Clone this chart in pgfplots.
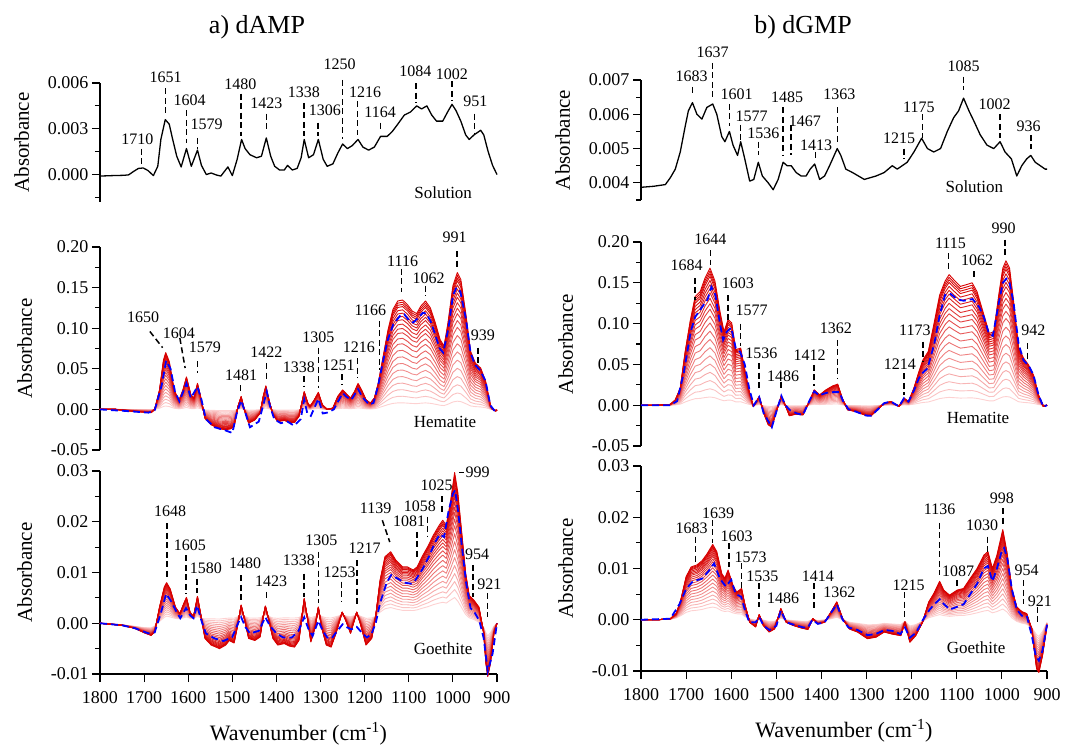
\documentclass[border=0pt]{standalone}
\usepackage{fontspec}
\setmainfont{Liberation Serif}
\usepackage{pgfplots}
\usepackage{pgfplotstable}
\pgfplotsset{compat=1.18}

\definecolor{dkred}{RGB}{215,0,0}
\definecolor{pinkbase}{RGB}{255,222,222}
\newcommand\fs[1]{\fontsize{#1}{#1}\selectfont}

% peak label: text x, text y, text, dash x, dash y1, dash y2
\newcommand\pk[6]{\node[pklab] at (axis cs:#1,#2) {#3};
  \draw[pkdash] (axis cs:#4,#5) -- (axis cs:#4,#6);}

% ---------- dAMP solution
\pgfplotstableread{
wn a
1800 -0.0001
1772 -0.00007
1745 -0.00005
1735 -0.00002
1724 0.0002
1713 0.0004
1702 0.00043
1691 0.00026
1679 -0.00007
1669 0.00054
1662 0.0023
1652 0.0036
1643 0.0033
1636 0.0024
1626 0.0012
1616 0.0005
1604 0.0017
1593 0.00054
1579 0.0016
1570 0.0006
1559 0.0
1548 0.0001
1535 -0.00004
1526 -0.0001
1518 0.0002
1510 0.0005
1500 -0.00007
1489 0.001
1479 0.0023
1471 0.0017
1460 0.0013
1445 0.0011
1434 0.0012
1423 0.0024
1413 0.0012
1404 0.00054
1393 0.0003
1382 0.0003
1375 0.0006
1364 0.0003
1353 0.0004
1344 0.0011
1337 0.0023
1327 0.0011
1316 0.0013
1305 0.0023
1294 0.001
1285 0.00054
1272 0.0007
1261 0.0014
1250 0.002
1239 0.0017
1228 0.0019
1215 0.0023
1204 0.0018
1191 0.0016
1178 0.0018
1164 0.0025
1149 0.0025
1138 0.0028
1125 0.0033
1110 0.0039
1096 0.0041
1082 0.0045
1071 0.0043
1059 0.0045
1048 0.0039
1037 0.0035
1023 0.0035
1012 0.0041
1002 0.0046
993 0.0042
982 0.0035
971 0.0026
963 0.0023
952 0.0026
937 0.0029
930 0.0026
920 0.0015
910 0.0006
900 0.0000
}\tAsol

% ---------- dGMP solution
\pgfplotstableread{
wn a
1800 0.00387
1772 0.0039
1746 0.00395
1735 0.00415
1724 0.0044
1713 0.0049
1702 0.00565
1695 0.0061
1686 0.00634
1676 0.006
1665 0.00586
1654 0.0062
1641 0.0063
1632 0.006
1621 0.00535
1614 0.0052
1604 0.0055
1596 0.0051
1586 0.0048
1579 0.0052
1570 0.0047
1559 0.00405
1550 0.0041
1540 0.0046
1531 0.0042
1518 0.004
1507 0.0038
1496 0.0041
1485 0.0046
1476 0.0045
1467 0.0045
1456 0.0043
1445 0.0042
1434 0.0042
1425 0.0044
1415 0.00455
1404 0.0041
1393 0.0042
1382 0.0045
1365 0.005
1357 0.0048
1346 0.0044
1331 0.0043
1318 0.0042
1305 0.0041
1279 0.0042
1261 0.0043
1243 0.0045
1232 0.0044
1221 0.0045
1210 0.0046
1195 0.0049
1178 0.0053
1165 0.005
1151 0.0049
1136 0.005
1121 0.0055
1107 0.0059
1096 0.0061
1085 0.00647
1073 0.0061
1062 0.0058
1048 0.0054
1033 0.0051
1018 0.005
1004 0.0052
993 0.0049
979 0.0047
967 0.0042
956 0.0045
945 0.0047
936 0.0048
926 0.0046
904 0.0044
900 0.0044
}\tBsol

% ---------- dAMP hematite (outermost curve)
\pgfplotstableread{
wn d
1800 0.0
1765 0.0
1721 -0.0025
1684 -0.004
1676 0.0
1665 0.024
1656 0.061
1651 0.070
1643 0.059
1632 0.024
1621 0.011
1612 0.024
1604 0.040
1594 0.018
1587 0.014
1579 0.032
1572 0.016
1562 -0.011
1548 -0.019
1529 -0.024
1515 -0.025
1504 -0.024
1496 -0.021
1487 0.004
1480 0.016
1473 0.0
1463 -0.017
1449 -0.013
1437 -0.0045
1430 0.016
1424 0.029
1417 0.012
1408 -0.0066
1397 -0.015
1382 -0.0136
1371 -0.016
1359 -0.016
1349 -0.0087
1337 0.022
1329 0.008
1324 0.0037
1315 0.011
1305 0.021
1296 0.0058
1285 0.0
1272 0.0016
1261 0.016
1250 0.024
1241 0.019
1232 0.014
1223 0.022
1215 0.032
1207 0.024
1197 0.012
1187 0.0078
1178 0.014
1169 0.0326
1158 0.0655
1147 0.098
1136 0.123
1125 0.1335
1114 0.1347
1103 0.129
1092 0.121
1082 0.118
1073 0.127
1062 0.1335
1051 0.125
1040 0.107
1029 0.086
1020 0.078
1011 0.107
1000 0.152
990 0.1685
982 0.160
971 0.119
960 0.0717
949 0.057
937 0.051
926 0.035
915 0.005
910 0.0
903 -0.002
900 -0.001
}\tAhem

% ---------- dGMP hematite (outermost curve)
\pgfplotstableread{
wn d
1800 0.0
1765 0.0
1735 0.001
1724 0.0065
1713 0.021
1702 0.066
1691 0.103
1680 0.133
1669 0.139
1658 0.156
1647 0.168
1636 0.152
1625 0.115
1616 0.090
1607 0.105
1599 0.101
1590 0.068
1579 0.070
1572 0.0495
1562 0.021
1551 -0.0016
1538 0.0106
1528 -0.0098
1518 -0.024
1510 -0.027
1500 -0.008
1489 0.0115
1479 -0.0016
1471 -0.013
1457 -0.011
1441 -0.012
1427 0.0045
1416 0.0188
1404 0.0127
1390 0.0188
1375 0.0237
1364 0.0258
1354 0.0086
1342 -0.0057
1324 -0.0078
1301 -0.0127
1290 -0.013
1276 -0.0057
1261 0.0025
1246 0.0045
1228 -0.0016
1217 0.0086
1207 0.0045
1195 0.021
1184 0.041
1175 0.0556
1163 0.066
1151 0.0985
1138 0.135
1126 0.152
1117 0.160
1107 0.154
1092 0.1456
1077 0.148
1066 0.150
1055 0.139
1040 0.111
1028 0.088
1018 0.090
1007 0.135
998 0.168
991 0.177
983 0.168
974 0.127
963 0.070
952 0.0577
941 0.0495
930 0.037
919 0.0127
908 -0.0016
900 0.0
}\tBhem

% ---------- dAMP goethite (outermost and faintest curve)
\pgfplotstableread{
wn d l
1800 0 0
1750 -0.0004 -0.0003
1721 -0.001 -0.0006
1699 -0.0019 -0.0008
1684 -0.0024 -0.0008
1676 -0.0017 -0.0005
1665 0.0032 0.0002
1654 0.0072 0.0008
1649 0.008 0.001
1641 0.0068 0.0009
1629 0.0032 0.0008
1619 0.0019 0.0008
1610 0.0039 0.0009
1604 0.0051 0.001
1596 0.0022 0.0009
1588 0.0013 0.0009
1579 0.0053 0.0011
1572 0.0019 0.001
1562 -0.003 0.0011
1548 -0.0043 0.0012
1529 -0.005 0.0012
1515 -0.0043 0.0013
1507 -0.0034 0.0013
1496 -0.0039 0.0013
1487 0 0.0014
1480 0.0036 0.0016
1472 0.0006 0.0014
1463 -0.003 0.0013
1449 -0.0034 0.0013
1437 -0.0027 0.0013
1430 0.0013 0.0014
1425 0.0034 0.0016
1418 0.0009 0.0014
1408 -0.003 0.0013
1397 -0.0043 0.0013
1382 -0.004 0.0014
1371 -0.0045 0.0014
1359 -0.0047 0.0014
1349 -0.0034 0.0014
1337 0.0049 0.0017
1329 0.0006 0.0015
1322 -0.0037 0.0014
1312 -0.0007 0.0015
1305 0.0032 0.0016
1298 -0.0007 0.0015
1287 -0.0043 0.0014
1276 -0.0047 0.0014
1265 -0.002 0.0015
1251 0.0022 0.0016
1243 0.0006 0.0015
1232 -0.002 0.0015
1218 0.0022 0.0016
1210 0 0.0015
1197 -0.0043 0.0013
1184 -0.003 0.0013
1175 0.0013 0.0014
1165 0.0085 0.0018
1154 0.0131 0.0022
1141 0.0141 0.0024
1129 0.0124 0.0022
1114 0.0111 0.002
1103 0.0111 0.002
1090 0.0105 0.002
1081 0.0111 0.0021
1070 0.0131 0.0023
1057 0.0151 0.0025
1044 0.0174 0.0028
1031 0.0193 0.003
1023 0.0203 0.0031
1015 0.0193 0.003
1006 0.0236 0.0033
996 0.0297 0.0035
989 0.0259 0.003
979 0.017 0.002
971 0.0098 0.0012
963 0.0055 0.0008
952 0.0045 0.0005
941 0.0032 0.0
930 -0.002 -0.0008
925 -0.008 -0.0015
921 -0.0105 -0.002
915 -0.008 -0.0015
907 -0.002 -0.0005
900 0.0 0.0
}\tAgoe

% ---------- dGMP goethite (outermost and faintest curve)
\pgfplotstableread{
wn d l
1800 0 0
1765 0 0
1735 0.0002 0.0001
1722 0.0012 0.0003
1712 0.0038 0.0006
1700 0.0084 0.001
1689 0.0103 0.0012
1676 0.0107 0.0013
1665 0.0115 0.0014
1654 0.0128 0.0016
1641 0.0147 0.0017
1632 0.0133 0.0016
1621 0.009 0.0013
1614 0.0081 0.0012
1607 0.0097 0.0012
1596 0.0067 0.001
1588 0.0054 0.0009
1577 0.0061 0.0008
1570 0.0031 0.0005
1559 -0.0005 0.0002
1546 -0.0014 0.0
1538 0.001 0.0002
1529 -0.0011 0.0
1516 -0.0024 -0.0002
1504 -0.0018 -0.0002
1490 0.0022 0.0002
1478 -0.0005 0.0
1463 -0.0011 -0.0001
1445 -0.0016 -0.0002
1430 -0.0019 -0.0002
1419 0.0002 0.0
1408 -0.0008 -0.0001
1393 -0.0005 0.0
1379 0.0015 0.0001
1366 0.0035 0.0003
1353 0.0002 0.0
1338 -0.0018 -0.0004
1320 -0.0024 -0.0006
1298 -0.0037 -0.0008
1279 -0.0034 -0.0008
1261 -0.0024 -0.0006
1243 -0.0028 -0.0007
1224 -0.0031 -0.0008
1215 -0.0005 -0.0003
1204 -0.0044 -0.001
1191 -0.0031 -0.0008
1176 -0.0005 -0.0003
1162 0.0035 0.0002
1151 0.0051 0.0004
1138 0.0075 0.0006
1129 0.0058 0.0005
1116 0.0048 0.0004
1099 0.0058 0.0005
1085 0.0061 0.0005
1070 0.0081 0.0006
1055 0.01 0.0008
1040 0.0126 0.001
1031 0.0133 0.0011
1021 0.01 0.0008
1011 0.0126 0.0009
998 0.0176 0.0011
989 0.0133 0.0008
978 0.0061 0.0
967 0.0025 -0.0005
956 0.0016 -0.0008
945 0.0012 -0.001
934 -0.0018 -0.0015
923 -0.0096 -0.0025
918 -0.0103 -0.0028
910 -0.007 -0.002
900 -0.0011 -0.0005
}\tBgoe

\tikzset{
  pklab/.style={font=\fs{16}, inner sep=1pt},
  pkdash/.style={line width=1.5pt, dash pattern=on 6pt off 3.5pt},
}
\pgfplotsset{
  panel/.style={
    scale only axis, clip=false,
    x dir=reverse, xmin=900, xmax=1800,
    axis y line*=left,
    axis line style={-, line width=1.1pt},
    tick align=outside, major tick length=8pt, minor tick length=5pt,
    every tick/.style={black, line width=1.1pt},
    tick label style={font=\fs{18}},
    scaled y ticks=false,
    /pgf/number format/assume math mode=true,
    ylabel={Absorbance}, ylabel style={font=\fs{21}}, ylabel shift=12pt,
    yticklabel style={/pgf/number format/fixed,
      /pgf/number format/fixed zerofill, /pgf/number format/precision=2},
  },
  toppanel/.style={panel, axis x line=none},
  bottompanel/.style={panel, axis x line*=bottom,
    xtick={900,1000,...,1800}, scaled x ticks=false,
    xticklabel shift=6pt,
    xticklabel style={/pgf/number format/fixed, /pgf/number format/precision=0,
      /pgf/number format/1000 sep={}},
    xlabel={Wavenumber (cm\textsuperscript{-1})}, xlabel style={font=\fs{22}},
    xlabel shift=12pt,
  },
  bluedash/.style={blue, line width=1.8pt, dash pattern=on 7pt off 4pt},
  fam/.style={line width=0.9pt, line join=round},
}

\begin{document}
\begin{tikzpicture}
\useasboundingbox (0,0) rectangle (1067pt,748pt);

\node[font=\fs{26}] at (257pt,721pt) {a) dAMP};
\node[font=\fs{26}] at (803pt,721pt) {b) dGMP};

% ===== a) solution
\begin{axis}[toppanel, at={(100pt,546pt)}, anchor=south west,
  width=397pt, height=119pt, ymin=-0.0018, ymax=0.006,
  ytick={0,0.003,0.006}, minor ytick={-0.0015,0.0015,0.0045},
  yticklabel style={/pgf/number format/precision=3}]
\addplot[black, line width=1.3pt, line join=round] table[x=wn, y=a] {\tAsol};
\pk{1715}{0.0023}{1710}{1706}{0.0017}{0.00054}
\pk{1651}{0.0064}{1651}{1651}{0.00565}{0.0038}
\pk{1597}{0.0049}{1604}{1604}{0.0042}{0.0021}
\pk{1558}{0.0033}{1579}{1579}{0.0024}{0.0017}
\pk{1482}{0.0059}{1480}{1480}{0.0053}{0.0025}
\pk{1423}{0.0047}{1423}{1423}{0.0040}{0.0028}
\pk{1338}{0.0054}{1338}{1338}{0.0047}{0.0025}
\pk{1290}{0.0042}{1306}{1306}{0.0034}{0.0025}
\pk{1257}{0.0072}{1250}{1250}{0.0062}{0.0023}
\pk{1199}{0.0054}{1216}{1216}{0.0048}{0.0026}
\pk{1165}{0.0041}{1164}{1164}{0.0034}{0.0028}
\pk{1085}{0.0068}{1084}{1084}{0.0060}{0.0047}
\pk{1002}{0.0066}{1002}{1002}{0.0061}{0.0048}
\pk{949}{0.0048}{951}{951}{0.0040}{0.0026}
\node[font=\fs{17}] at (axis cs:1022,-0.0012) {Solution};
\end{axis}

% ===== a) hematite
\begin{axis}[toppanel, at={(100pt,298pt)}, anchor=south west,
  width=397pt, height=203pt, ymin=-0.05, ymax=0.2,
  ytick={-0.05,0,0.05,0.1,0.15,0.2}, minor y tick num=1]
\pgfplotsinvokeforeach{6,12,18,24,30,36,42,48,54,60,65,70,74,78,82,85,88,91,94,96,98,100}{
  \addplot[fam, draw=dkred!#1!pinkbase] table[x=wn, y expr={#1/100*\thisrow{d}}] {\tAhem};
}
\addplot[bluedash] coordinates {(1800,0) (1740,-0.002) (1690,-0.004) (1676,-0.001)
 (1660,0.03) (1650,0.060) (1640,0.05) (1630,0.022) (1620,0.010) (1604,0.032) (1594,0.014)
 (1579,0.028) (1570,0.012) (1560,-0.012) (1540,-0.022) (1515,-0.026) (1500,-0.029)
 (1490,-0.005) (1480,0.011) (1470,-0.005) (1460,-0.022) (1440,-0.015) (1430,0.005)
 (1422,0.022) (1415,0.005) (1405,-0.012) (1390,-0.017) (1375,-0.015) (1360,-0.020)
 (1345,-0.012) (1337,0.012) (1330,-0.005) (1322,-0.008) (1305,0.013) (1295,-0.005)
 (1285,-0.004) (1270,0.000) (1250,0.020) (1240,0.015) (1230,0.012) (1215,0.025)
 (1205,0.015) (1190,0.006) (1180,0.008) (1170,0.028) (1160,0.055) (1148,0.085)
 (1135,0.105) (1120,0.115) (1110,0.117) (1100,0.110) (1090,0.107) (1080,0.112)
 (1068,0.119) (1060,0.118) (1050,0.108) (1040,0.092) (1030,0.075) (1022,0.070)
 (1010,0.100) (1000,0.140) (992,0.150) (983,0.145) (970,0.110) (960,0.070) (950,0.055)
 (938,0.048) (926,0.035) (915,0.005) (905,-0.002) (900,-0.001)};
\node[pklab] at (axis cs:1702,0.113) {1650};
\draw[pkdash] (axis cs:1687,0.096) -- (axis cs:1658,0.076);
\node[pklab] at (axis cs:1621,0.094) {1604};
\draw[pkdash] (axis cs:1619,0.088) -- (axis cs:1607,0.051);
\pk{1562}{0.077}{1579}{1579}{0.059}{0.045}
\pk{1480}{0.042}{1481}{1481}{0.030}{0.020}
\pk{1423}{0.070}{1422}{1422}{0.057}{0.035}
\pk{1349}{0.052}{1338}{1338}{0.041}{0.028}
\pk{1305}{0.089}{1305}{1305}{0.076}{0.026}
\pk{1259}{0.054}{1251}{1251}{0.043}{0.030}
\pk{1213}{0.077}{1216}{1216}{0.063}{0.039}
\pk{1187}{0.122}{1166}{1166}{0.109}{0.049}
\pk{1114}{0.183}{1116}{1116}{0.173}{0.144}
\pk{1055}{0.162}{1062}{1062}{0.152}{0.140}
\pk{996}{0.212}{991}{991}{0.195}{0.175}
\pk{932}{0.091}{939}{943}{0.076}{0.053}
\node[font=\fs{17}] at (axis cs:1018,-0.015) {Hematite};
\end{axis}

% ===== a) goethite
\begin{axis}[bottompanel, at={(100pt,74pt)}, anchor=south west,
  width=397pt, height=203pt, ymin=-0.01, ymax=0.03,
  ytick={-0.01,0,0.01,0.02,0.03}, minor y tick num=1]
\pgfplotsinvokeforeach{6,12,18,24,30,36,42,48,54,60,65,70,74,78,82,85,88,91,94,96,98,100}{
  \addplot[fam, draw=dkred!#1!pinkbase] table[x=wn, y expr={#1/100*\thisrow{d}+(1-#1/100)*\thisrow{l}}] {\tAgoe};
}
\addplot[bluedash] coordinates {(1800,0) (1750,-0.0004) (1720,-0.001) (1690,-0.002)
 (1676,-0.0018) (1662,0.002) (1650,0.0058) (1640,0.0045) (1625,0.002) (1618,0.001)
 (1605,0.003) (1595,0.0015) (1588,0.001) (1580,0.0035) (1570,0.0005) (1560,-0.002)
 (1540,-0.003) (1520,-0.0035) (1500,-0.0027) (1487,0.0) (1480,0.0012) (1470,-0.0008)
 (1460,-0.002) (1440,-0.0015) (1425,0.0012) (1415,-0.0005) (1400,-0.002) (1385,-0.0028)
 (1365,-0.0028) (1350,-0.0015) (1337,0.0012) (1328,-0.001) (1318,-0.0025) (1305,0.0005)
 (1295,-0.0015) (1285,-0.0028) (1275,-0.003) (1262,-0.0015) (1250,-0.0002) (1240,-0.0008)
 (1230,-0.0012) (1218,-0.0007) (1205,-0.002) (1195,-0.0028) (1185,-0.0022) (1175,0)
 (1165,0.004) (1150,0.008) (1140,0.0095) (1125,0.0088) (1110,0.008) (1095,0.0078)
 (1085,0.0085) (1070,0.0105) (1055,0.013) (1040,0.016) (1030,0.0175) (1020,0.017)
 (1010,0.022) (1000,0.0255) (995,0.0262) (988,0.022) (980,0.0155) (970,0.008) (960,0.003)
 (950,0.002) (940,0.0005) (930,-0.003) (921,-0.0095) (910,-0.006) (900,0)};
\pk{1641}{0.022}{1648}{1648}{0.0197}{0.0085}
\pk{1596}{0.0154}{1605}{1605}{0.0134}{0.0059}
\pk{1560}{0.0108}{1580}{1580}{0.0088}{0.0059}
\pk{1471}{0.0118}{1480}{1480}{0.0095}{0.0045}
\pk{1412}{0.0082}{1423}{1423}{0.0062}{0.0045}
\pk{1349}{0.0124}{1338}{1338}{0.0098}{0.0052}
\pk{1298}{0.0164}{1305}{1305}{0.0141}{0.0039}
\pk{1257}{0.0101}{1253}{1253}{0.0082}{0.0042}
\pk{1200}{0.0147}{1217}{1217}{0.0124}{0.0032}
\node[pklab] at (axis cs:1175,0.0226) {1139};
\draw[pkdash] (axis cs:1160,0.0203) -- (axis cs:1143,0.016);
\pk{1099}{0.0200}{1081}{1081}{0.0180}{0.0131}
\pk{1075}{0.0230}{1058}{1058}{0.0210}{0.0170}
\pk{1037}{0.0272}{1025}{1025}{0.0250}{0.0220}
\draw[line width=1.3pt] (axis cs:986,0.0297) -- (axis cs:975,0.0297);
\node[pklab, anchor=west] at (axis cs:974,0.0297) {999};
\pk{945}{0.0135}{954}{954}{0.0115}{0.0052}
\pk{917}{0.0076}{921}{921}{0.0059}{0.0012}
\node[font=\fs{17}] at (axis cs:1022,-0.005) {Goethite};
\end{axis}

% ===== b) solution
\begin{axis}[toppanel, at={(641pt,548pt)}, anchor=south west,
  width=406pt, height=120pt, ymin=0.0035, ymax=0.007,
  ytick={0.004,0.005,0.006,0.007}, minor ytick={0.0035,0.0045,0.0055,0.0065},
  yticklabel style={/pgf/number format/precision=3}]
\addplot[black, line width=1.3pt, line join=round] table[x=wn, y=a] {\tBsol};
\pk{1688}{0.0071}{1683}{1686}{0.0068}{0.00657}
\pk{1641}{0.0078}{1637}{1641}{0.0075}{0.0064}
\pk{1588}{0.00657}{1601}{1604}{0.0063}{0.00565}
\pk{1555}{0.00594}{1577}{1579}{0.0057}{0.0052}
\pk{1529}{0.00545}{1536}{1540}{0.0052}{0.0048}
\pk{1476}{0.0065}{1485}{1485}{0.0062}{0.0048}
\pk{1437}{0.0058}{1467}{1467}{0.0057}{0.0048}
\pk{1412}{0.0051}{1413}{1413}{0.0049}{0.0047}
\pk{1360}{0.00657}{1363}{1364}{0.0062}{0.0051}
\pk{1228}{0.0053}{1215}{1217}{0.0050}{0.0047}
\pk{1184}{0.0062}{1175}{1176}{0.0060}{0.0053}
\pk{1085}{0.0074}{1085}{1085}{0.0071}{0.0067}
\pk{1016}{0.0063}{1002}{1004}{0.0060}{0.0053}
\pk{941}{0.00565}{936}{936}{0.0054}{0.0050}
\node[font=\fs{17}] at (axis cs:1061,0.0039) {Solution};
\end{axis}

% ===== b) hematite
\begin{axis}[toppanel, at={(641pt,302pt)}, anchor=south west,
  width=406pt, height=204pt, ymin=-0.05, ymax=0.2,
  ytick={-0.05,0,0.05,0.1,0.15,0.2}, minor y tick num=1]
\pgfplotsinvokeforeach{6,12,18,24,30,36,42,48,54,60,65,70,74,78,82,85,88,91,94,96,98,100}{
  \addplot[fam, draw=dkred!#1!pinkbase] table[x=wn, y expr={#1/100*\thisrow{d}}] {\tBhem};
}
\addplot[bluedash] coordinates {(1800,0) (1735,0) (1720,0.005) (1705,0.04) (1690,0.09)
 (1680,0.108) (1665,0.120) (1652,0.130) (1644,0.145) (1635,0.135) (1625,0.10) (1618,0.080)
 (1610,0.090) (1600,0.095) (1590,0.070) (1580,0.065) (1570,0.050) (1560,0.02) (1550,0)
 (1538,0.010) (1528,-0.010) (1510,-0.027) (1500,-0.008) (1489,0.0115) (1480,0)
 (1470,-0.006) (1455,-0.010) (1441,-0.012) (1427,0.005) (1416,0.017) (1405,0.012)
 (1390,0.015) (1375,0.016) (1360,0.016) (1352,0.005) (1340,-0.005) (1324,-0.0078)
 (1301,-0.0127) (1290,-0.013) (1276,-0.0057) (1261,0.0025) (1246,0.0045) (1228,-0.0016)
 (1217,0.0086) (1207,0.0045) (1195,0.018) (1184,0.033) (1175,0.040) (1165,0.045)
 (1150,0.075) (1138,0.110) (1126,0.135) (1115,0.137) (1100,0.130) (1085,0.128)
 (1065,0.130) (1050,0.120) (1040,0.108) (1030,0.090) (1020,0.085) (1007,0.125)
 (998,0.150) (990,0.155) (983,0.150) (974,0.125) (963,0.075) (952,0.055) (940,0.048)
 (930,0.037) (919,0.013) (908,-0.002) (900,0)};
\pk{1699}{0.171}{1684}{1680}{0.156}{0.129}
\pk{1646}{0.203}{1644}{1646}{0.190}{0.172}
\pk{1585}{0.150}{1603}{1607}{0.135}{0.105}
\pk{1555}{0.116}{1577}{1579}{0.100}{0.072}
\pk{1533}{0.064}{1536}{1538}{0.0515}{0.019}
\pk{1485}{0.036}{1486}{1490}{0.029}{0.019}
\pk{1426}{0.061}{1412}{1417}{0.0495}{0.023}
\pk{1368}{0.094}{1362}{1364}{0.080}{0.033}
\pk{1226}{0.050}{1214}{1217}{0.039}{0.0127}
\pk{1193}{0.092}{1173}{1175}{0.078}{0.0536}
\pk{1114}{0.199}{1115}{1118}{0.186}{0.164}
\pk{1055}{0.178}{1062}{1062}{0.164}{0.154}
\pk{996}{0.217}{990}{993}{0.203}{0.180}
\pk{930}{0.092}{942}{943}{0.076}{0.0536}
\node[font=\fs{17}] at (axis cs:1053,-0.016) {Hematite};
\end{axis}

% ===== b) goethite
\begin{axis}[bottompanel, at={(641pt,77pt)}, anchor=south west,
  width=406pt, height=205pt, ymin=-0.01, ymax=0.03,
  ytick={-0.01,0,0.01,0.02,0.03}, minor y tick num=1]
\pgfplotsinvokeforeach{6,12,18,24,30,36,42,48,54,60,65,70,74,78,82,85,88,91,94,96,98,100}{
  \addplot[fam, draw=dkred!#1!pinkbase] table[x=wn, y expr={#1/100*\thisrow{d}+(1-#1/100)*\thisrow{l}}] {\tBgoe};
}
\addplot[bluedash] coordinates {(1800,0) (1735,0.0002) (1715,0.003) (1700,0.006)
 (1685,0.0075) (1665,0.008) (1650,0.0095) (1638,0.011) (1625,0.008) (1612,0.0065)
 (1600,0.0078) (1590,0.005) (1578,0.0045) (1570,0.002) (1560,-0.0005) (1546,-0.0005)
 (1538,0.0005) (1528,-0.0012) (1515,-0.002) (1500,-0.0012) (1490,0.0018) (1478,-0.0005)
 (1460,-0.001) (1440,-0.0015) (1430,-0.0015) (1420,0) (1408,-0.0008) (1393,-0.0005)
 (1380,0.0012) (1366,0.003) (1353,0) (1340,-0.0015) (1320,-0.002) (1298,-0.003)
 (1280,-0.0028) (1260,-0.002) (1240,-0.0022) (1225,-0.0028) (1215,-0.0015) (1204,-0.0035)
 (1190,-0.0025) (1175,0) (1160,0.002) (1150,0.003) (1138,0.004) (1128,0.003) (1115,0.002)
 (1100,0.0025) (1085,0.003) (1070,0.005) (1055,0.007) (1040,0.01) (1031,0.0105)
 (1021,0.0075) (1011,0.01) (1000,0.0135) (995,0.014) (988,0.012) (978,0.006) (967,0.002)
 (956,0.0008) (945,0.0008) (934,-0.003) (925,-0.007) (918,-0.008) (910,-0.006) (900,-0.001)};
\pk{1688}{0.0179}{1683}{1679}{0.0162}{0.0113}
\pk{1629}{0.0208}{1639}{1641}{0.0195}{0.0149}
\pk{1588}{0.0162}{1603}{1605}{0.0149}{0.0103}
\pk{1557}{0.0121}{1573}{1577}{0.0110}{0.0061}
\pk{1531}{0.0084}{1535}{1538}{0.0071}{0.0025}
\node[pklab] at (axis cs:1485,0.0041) {1486};
\pk{1408}{0.0084}{1414}{1417}{0.0071}{0.0022}
\node[pklab] at (axis cs:1360,0.0054) {1362};
\pk{1207}{0.0067}{1215}{1216}{0.0054}{0.0002}
\pk{1138}{0.0215}{1136}{1138}{0.0189}{0.0087}
\pk{1097}{0.0094}{1087}{1099}{0.0077}{0.0061}
\pk{1044}{0.0185}{1030}{1032}{0.0162}{0.0133}
\pk{1000}{0.0238}{998}{998}{0.0218}{0.0182}
\pk{945}{0.0097}{954}{952}{0.0077}{0.0031}
\pk{916}{0.0037}{921}{921}{0.0025}{-0.0011}
\node[font=\fs{17}] at (axis cs:1057,-0.0054) {Goethite};
\end{axis}
\end{tikzpicture}
\end{document}
